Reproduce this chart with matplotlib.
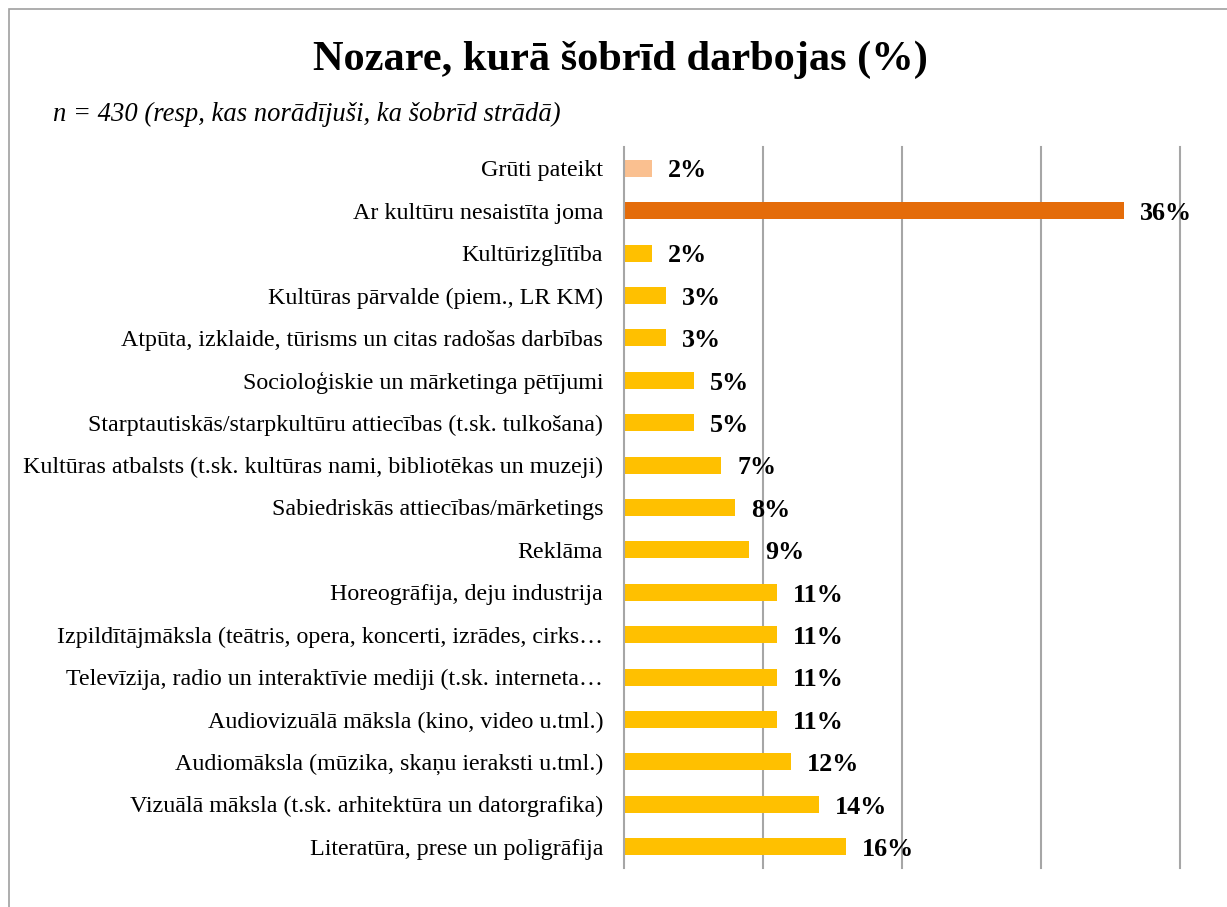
import matplotlib.pyplot as plt
from matplotlib.patches import Rectangle

plt.rcParams['font.family'] = ['Liberation Serif', 'DejaVu Serif']

# categories, bottom to top
categories = [
    'Literatūra, prese un poligrāfija',
    'Vizuālā māksla (t.sk. arhitektūra un datorgrafika)',
    'Audiomāksla (mūzika, skaņu ieraksti u.tml.)',
    'Audiovizuālā māksla (kino, video u.tml.)',
    'Televīzija, radio un interaktīvie mediji (t.sk. interneta…',
    'Izpildītājmāksla (teātris, opera, koncerti, izrādes, cirks…',
    'Horeogrāfija, deju industrija',
    'Reklāma',
    'Sabiedriskās attiecības/mārketings',
    'Kultūras atbalsts (t.sk. kultūras nami, bibliotēkas un muzeji)',
    'Starptautiskās/starpkultūru attiecības (t.sk. tulkošana)',
    'Socioloģiskie un mārketinga pētījumi',
    'Atpūta, izklaide, tūrisms un citas radošas darbības',
    'Kultūras pārvalde (piem., LR KM)',
    'Kultūrizglītība',
    'Ar kultūru nesaistīta joma',
    'Grūti pateikt',
]
values = [16, 14, 12, 11, 11, 11, 11, 9, 8, 7, 5, 5, 3, 3, 2, 36, 2]
colors = ['#FFC000'] * 15 + ['#E46C0A', '#FAC090']

fig = plt.figure(figsize=(12.27, 9.07), dpi=100)
ax = fig.add_axes([624 / 1227, 1 - 868 / 907, (1180 - 624) / 1227, (868 - 147) / 907])

y = range(len(categories))
ax.barh(y, values, height=0.4, color=colors, zorder=3)
ax.set_xlim(0, 40)
ax.set_ylim(-0.5, len(categories) - 0.5)
ax.set_yticks(list(y))
ax.set_yticklabels(categories, fontsize=17.3)
ax.tick_params(axis='y', length=0, pad=15)
ax.set_xticks([])
for s in ax.spines.values():
    s.set_visible(False)
for gx in [0, 10, 20, 30, 40]:
    ax.axvline(gx, color='#A6A6A6', linewidth=1.5, zorder=4 if gx == 0 else 1,
               clip_on=False)

for yi, v in zip(y, values):
    ax.annotate(f'{v}%', (v, yi), xytext=(11.5, -2), textcoords='offset points',
                va='center', ha='left', fontsize=18.8, fontweight='bold', zorder=5)

fig.text(620 / 1227, 1 - 60 / 907, 'Nozare, kurā šobrīd darbojas (%)',
         ha='center', va='center', fontsize=30.5, fontweight='bold')
fig.text(53 / 1227, 1 - 114 / 907, 'n = 430 (resp, kas norādījuši, ka šobrīd strādā)',
         ha='left', va='center', fontsize=19.2, style='italic')

fig.patches.append(Rectangle((9 / 1227, -0.1), 1.2, 1 - 9 / 907 + 0.1,
                             transform=fig.transFigure, fill=False,
                             edgecolor='#A0A0A0', linewidth=1.2))

fig.savefig('out.png', dpi=100)
